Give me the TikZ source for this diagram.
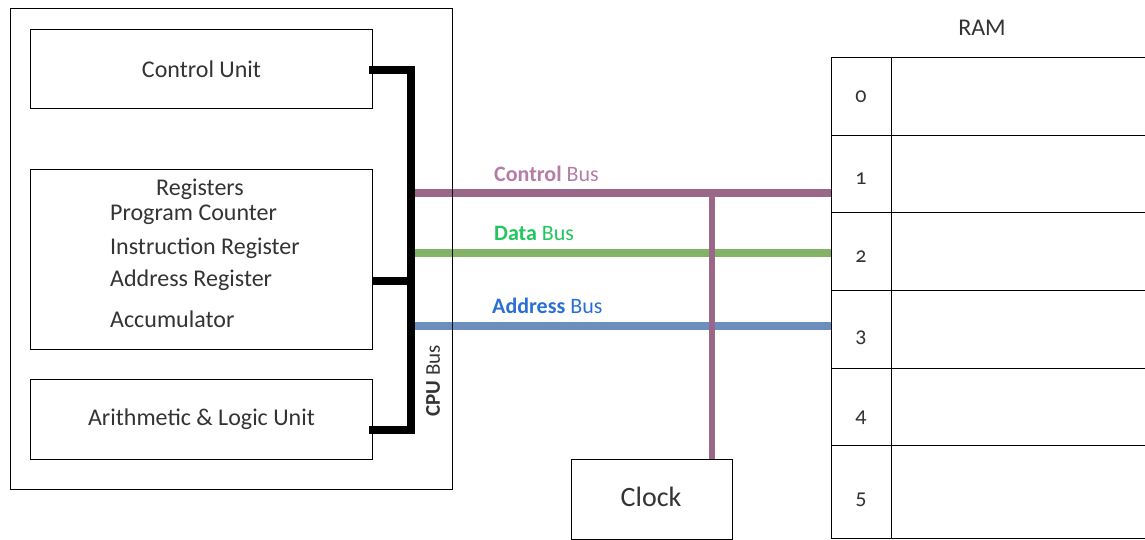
\documentclass[tikz,border=0pt]{standalone}
\usepackage{fontspec}
\setmainfont{Carlito}
\newfontfamily\oldnum[Numbers=OldStyle]{Carlito}
\definecolor{cbus}{HTML}{9A6788}
\definecolor{cbustxt}{HTML}{B57DA6}
\definecolor{dbus}{HTML}{82B366}
\definecolor{dbustxt}{HTML}{22C55E}
\definecolor{abus}{HTML}{6C8EBF}
\definecolor{abustxt}{HTML}{2A6FD6}
\definecolor{txt}{HTML}{333333}
\begin{document}
\begin{tikzpicture}[x=1pt,y=-1pt,
  box/.style={draw=black,line width=1pt,fill=none},
  lbl/.style={text=txt,font=\fontsize{24}{28}\selectfont,inner sep=0pt},
  cpubus/.style={line width=8pt,draw=black},
  bus/.style={line width=8pt}]
\useasboundingbox (0,0) rectangle (1145,539);
% buses first
\coordinate (cb1) at (412,193);
\coordinate (cb2) at (832,193);
\coordinate (db1) at (412,253);
\coordinate (db2) at (832,253);
\coordinate (ab1) at (412,326);
\coordinate (ab2) at (832,326);
\coordinate (ct) at (712,193);
\draw[bus,draw=cbus] (cb1) -- (cb2);
\draw[bus,draw=dbus] (db1) -- (db2);
\draw[bus,draw=abus] (ab1) -- (ab2);
\node[box,minimum width=161,minimum height=80,anchor=north west] (clock) at (571,459) {};
\draw[line width=6pt,draw=cbus] (ct) -- (clock.north -| ct);
\node[lbl,font=\fontsize{28}{32}\selectfont] (clocklbl) at (651,497) {Clock};
% CPU
\node[box,minimum width=442,minimum height=481,anchor=north west] (cpu) at (10,8) {};
\node[box,minimum width=342,minimum height=79,anchor=north west] (cu) at (30,29) {};
\node[lbl] at (cu.center) {Control Unit};
\node[box,minimum width=342,minimum height=180,anchor=north west] (reg) at (30,169) {};
\node[box,minimum width=342,minimum height=80,anchor=north west] (alu) at (30,379) {};
\node[lbl] at (alu.center) {Arithmetic \& Logic Unit};
\node[lbl] (regt) at (200,189) {Registers};
\node[lbl,anchor=west] (r1) at (110,215) {Program Counter};
\node[lbl,anchor=west] (r2) at (110,248) {Instruction Register};
\node[lbl,anchor=west] (r3) at (110,280) {Address Register};
\node[lbl,anchor=west] (r4) at (110,319) {Accumulator};
% CPU bus
\coordinate (bt) at (411,70);
\coordinate (bm) at (411,281);
\coordinate (bb) at (411,430);
\draw[cpubus,line cap=rect] (cu.east |- bt) -- (bt) -- (bb) -- (alu.east |- bb);
\draw[cpubus] (reg.east |- bm) -- (bm);
\node[lbl,rotate=90,font=\fontsize{21}{24}\selectfont] (cpub) at (433,381) {\textbf{CPU} Bus};
% bus labels
\node[lbl,text=cbustxt,anchor=west,font=\fontsize{22}{26}\selectfont] (cbl) at (494,174) {\textbf{Control} Bus};
\node[lbl,text=dbustxt,anchor=west,font=\fontsize{22}{26}\selectfont] (dbl) at (494,233) {\textbf{Data} Bus};
\node[lbl,text=abustxt,anchor=west,font=\fontsize{22}{26}\selectfont] (abl) at (492,306) {\textbf{Address} Bus};
% RAM
\node[lbl] (ram) at (982,28) {RAM};
\foreach \i/\y/\h/\ny in {0/57/78/97,1/135/77/179,2/212/78/257,3/290/78/338,4/368/77/418,5/445/93.5/500}{
  \draw[line width=1pt] (831,\y) rectangle (891,\y+\h);
  \draw[line width=1pt] (891,\y) rectangle (1150,\y+\h);
  \node[lbl,font=\oldnum\fontsize{22}{26}\selectfont] (n\i) at (861,\ny) {\i};
}
\end{tikzpicture}
\end{document}
